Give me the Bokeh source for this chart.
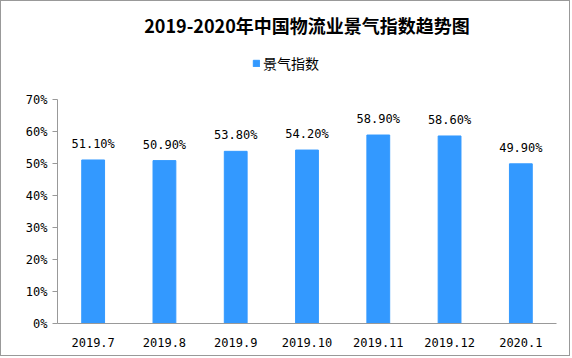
from bokeh.plotting import figure
from bokeh.models import ColumnDataSource, LabelSet, Legend, LegendItem, FixedTicker, Range1d
from bokeh.core.properties import value
from bokeh.embed import file_html
from bokeh.resources import INLINE

months = ["2019.7", "2019.8", "2019.9", "2019.10", "2019.11", "2019.12", "2020.1"]
values = [51.1, 50.9, 53.8, 54.2, 58.9, 58.6, 49.9]
labels = ["51.10%", "50.90%", "53.80%", "54.20%", "58.90%", "58.60%", "49.90%"]
yticks = [0, 10, 20, 30, 40, 50, 60, 70]

src = ColumnDataSource(dict(m=months, v=values, lab=labels))

TOP = 41
p = figure(x_range=months, y_range=Range1d(0, 70 + (98 - TOP) / 3.2), width=570, height=356,
           output_backend="svg", toolbar_location=None,
           min_border_left=56, min_border_right=15, min_border_bottom=34, min_border_top=TOP)
p.styles = {"border": "1px solid #999999"}
p.outline_line_color = None
p.xgrid.grid_line_color = None
p.ygrid.grid_line_color = None

r = p.vbar(x="m", top="v", width=0.32, source=src, color="#3399FF")

p.add_layout(LabelSet(x="m", y="v", text="lab", source=src, y_offset=9,
                      text_align="center", text_font=value("DejaVu Sans Mono"),
                      text_font_size="12px", text_color="#000000"))

p.title.text = "2019-2020年中国物流业景气指数趋势图"
p.title.align = "center"
p.title.text_font = "Noto Sans CJK SC"
p.title.text_font_size = "18px"
p.title.text_font_style = "bold"
p.title.text_color = "#000000"

leg = Legend(items=[LegendItem(label="景气指数", renderers=[r])], orientation="horizontal",
             location=(195, 250), label_text_font="Noto Sans CJK SC", label_text_font_size="14px",
             glyph_width=8, glyph_height=8, border_line_color=None, background_fill_alpha=0,
             padding=2, margin=0, label_standoff=3, label_text_color="#000000")
p.add_layout(leg)

p.yaxis.bounds = (0, 70)
p.yaxis.ticker = FixedTicker(ticks=yticks)
p.yaxis.major_label_overrides = {t: f"{t}%" for t in yticks}
p.yaxis.axis_line_color = "#999999"
p.yaxis.major_tick_line_color = "#999999"
p.yaxis.major_tick_in = 0
p.yaxis.major_tick_out = 5
p.yaxis.minor_tick_line_color = None
p.yaxis.major_label_text_font = "DejaVu Sans Mono"
p.yaxis.major_label_text_font_size = "12px"
p.yaxis.major_label_text_color = "#000000"

p.xaxis.axis_line_color = "#999999"
p.xaxis.major_tick_line_color = None
p.xaxis.major_label_text_font = "DejaVu Sans Mono"
p.xaxis.major_label_text_font_size = "12px"
p.xaxis.major_label_text_color = "#000000"
p.xaxis.major_label_standoff = 8
p.x_range.range_padding = 0.0

open("out.html", "w").write(file_html(p, INLINE))
